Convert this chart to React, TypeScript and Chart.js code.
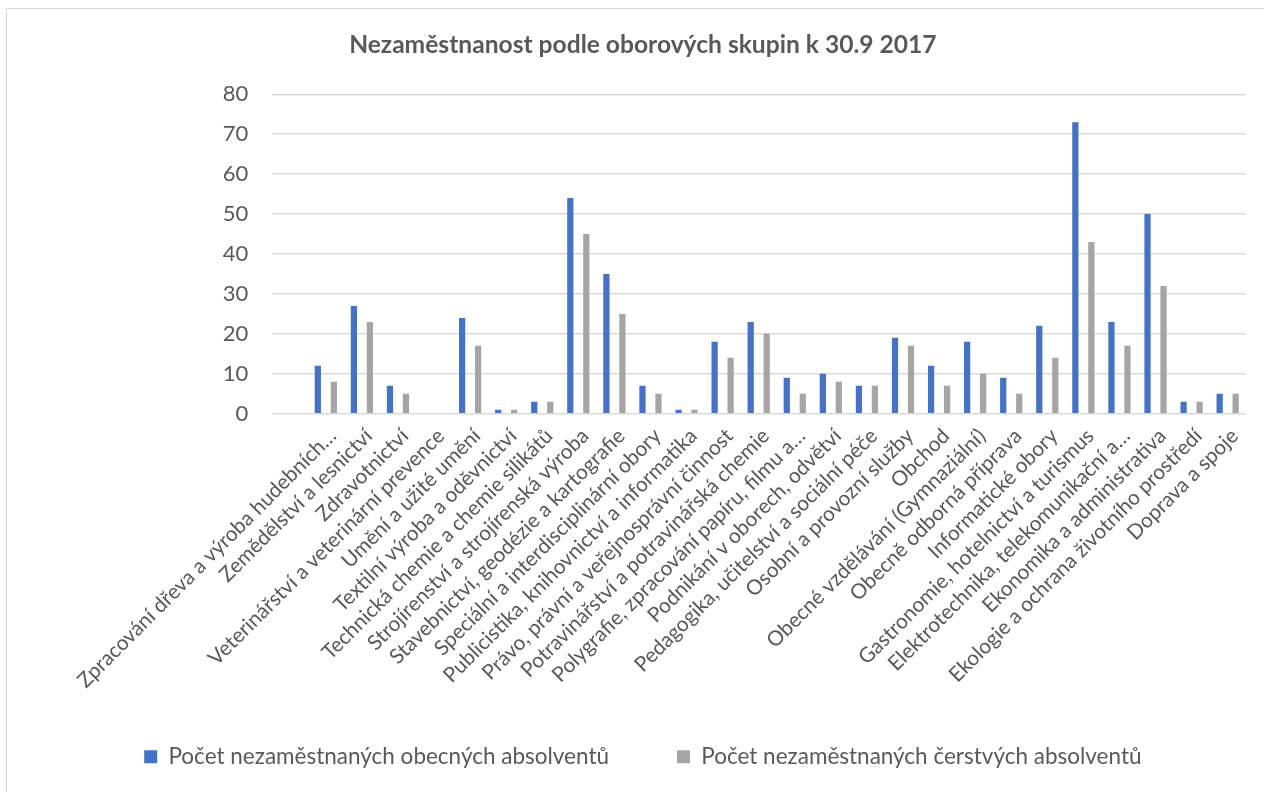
import React, { useEffect, useRef } from "react";
import { Chart, registerables } from "chart.js";

Chart.register(...registerables);

const titleText = "Nezaměstnanost podle oborových skupin k 30.9 2017";

const categories: string[] = [
  "",
  "Zpracování dřeva a výroba hudebních…",
  "Zemědělství a lesnictví",
  "Zdravotnictví",
  "Veterinářství a veterinární prevence",
  "Umění a užité umění",
  "Textilní výroba a oděvnictví",
  "Technická chemie a chemie silikátů",
  "Strojírenství a strojírenská výroba",
  "Stavebnictví, geodézie a kartografie",
  "Speciální a interdisciplinární obory",
  "Publicistika, knihovnictví a informatika",
  "Právo, právní a veřejnosprávní činnost",
  "Potravinářství a potravinářská chemie",
  "Polygrafie, zpracování papíru, filmu a…",
  "Podnikání v oborech, odvětví",
  "Pedagogika, učitelství a sociální péče",
  "Osobní a provozní služby",
  "Obchod",
  "Obecné vzdělávání (Gymnaziální)",
  "Obecně odborná příprava",
  "Informatické obory",
  "Gastronomie, hotelnictví a turismus",
  "Elektrotechnika, telekomunikační a…",
  "Ekonomika a administrativa",
  "Ekologie a ochrana životního prostředí",
  "Doprava a spoje",
];

const seriesNames = [
  "Počet nezaměstnaných obecných absolventů",
  "Počet nezaměstnaných čerstvých absolventů",
];

const obecni: (number | null)[] = [
  null, 12, 27, 7, 0, 24, 1, 3, 54, 35, 7, 1, 18, 23, 9, 10, 7, 19, 12, 18, 9, 22, 73, 23, 50, 3, 5,
];

const cerstvi: (number | null)[] = [
  null, 8, 23, 5, 0, 17, 1, 3, 45, 25, 5, 1, 14, 20, 5, 8, 7, 17, 7, 10, 5, 14, 43, 17, 32, 3, 5,
];

const yMin = 0;
const yMax = 80;
const yStep = 10;

const TEXT = "#595959";
const FONT = "Lato";
const PAD_LEFT = 40;
const LEG_PAD = 68;

export default function App() {
  const ref = useRef<HTMLCanvasElement | null>(null);

  useEffect(() => {
    if (!ref.current) return;
    const chart = new Chart(ref.current, {
      type: "bar",
      data: {
        labels: categories,
        datasets: [
          {
            label: seriesNames[0],
            data: obecni,
            backgroundColor: "#4472C4",
            borderWidth: 0,
            categoryPercentage: 0.887,
            barPercentage: 0.39,
          },
          {
            label: seriesNames[1],
            data: cerstvi,
            backgroundColor: "#A5A5A5",
            borderWidth: 0,
            categoryPercentage: 0.887,
            barPercentage: 0.39,
          },
        ],
      },
      options: {
        responsive: false,
        animation: false,
        devicePixelRatio: 1,
        layout: { padding: { left: PAD_LEFT, right: 18.3, top: 0, bottom: 14 } },
        plugins: {
          tooltip: { enabled: false },
          title: {
            display: true,
            text: titleText,
            color: TEXT,
            font: { family: FONT, size: 24.6, weight: "bold", lineHeight: 1.2 },
            padding: { top: 30.2, bottom: 34.6 },
          },
          legend: {
            position: "bottom",
            labels: {
              color: TEXT,
              font: { family: FONT, size: 22.5 },
              boxWidth: 13,
              boxHeight: 13,
              padding: LEG_PAD,
            },
          },
        },
        scales: {
          x: {
            grid: { display: false },
            border: { display: false },
            ticks: {
              color: TEXT,
              font: { family: FONT, size: 20.8 },
              minRotation: 45,
              maxRotation: 45,
              autoSkip: false,
              padding: 2,
              labelOffset: 7,
            },
            afterFit: (s: any) => {
              s.height = 263.8;
              // let the rotated labels run below the axis box, as in the reference
              s._computeLabelArea = () => undefined;
            },
          },
          y: {
            min: yMin,
            max: yMax,
            grid: { color: "#D9D9D9", lineWidth: 1.5, drawTicks: false },
            border: { display: false },
            ticks: {
              stepSize: yStep,
              color: TEXT,
              font: { family: FONT, size: 22 },
              padding: 23.4,
            },
            afterFit: (s: any) => {
              s.width = 271.7 - PAD_LEFT;
            },
          },
        },
      },
    });
    return () => chart.destroy();
  }, []);

  return (
    <div
      style={{
        position: "fixed",
        left: 0,
        top: 0,
        width: 1264,
        height: 792,
        overflow: "hidden",
        background: "#fff",
      }}
    >
      <div
        style={{
          position: "absolute",
          left: 6,
          top: 8,
          width: 1320,
          height: 900,
          border: "1.5px solid #D9D9D9",
          boxSizing: "border-box",
        }}
      />
      <canvas
        ref={ref}
        width={1264}
        height={792}
        style={{ position: "absolute", left: 0, top: 0, width: 1264, height: 792 }}
      />
    </div>
  );
}
